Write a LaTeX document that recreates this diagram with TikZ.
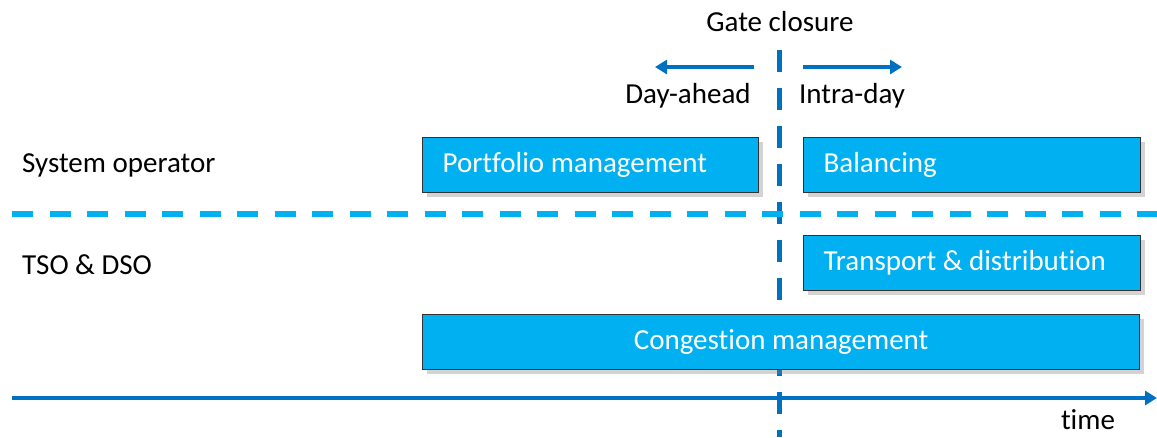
\documentclass[tikz,border=0pt]{standalone}
\usepackage{fontspec}
\setmainfont{Carlito}[Ligatures=NoCommon]
\usetikzlibrary{shadows,arrows.meta}
\definecolor{dblue}{RGB}{0,112,192}
\definecolor{lblue}{RGB}{0,176,240}
\begin{document}
\begin{tikzpicture}[x=1pt,y=-1pt,
  box/.style={draw=black!80, line width=1.2pt, fill=lblue, text=white, font=\fontsize{29}{32}\selectfont,
    inner xsep=20pt, minimum height=55pt, anchor=north west,
    drop shadow={opacity=0.35, shadow xshift=4pt, shadow yshift=-4pt}},
  lbl/.style={text=black, font=\fontsize{29}{32}\selectfont, inner sep=0pt},
  darr/.style={draw=dblue, line width=4pt, -{Triangle[length=12pt,width=14pt]}},
  vdash/.style={draw=dblue, line width=5pt, dash pattern=on 22pt off 16pt},
  hdash/.style={draw=lblue, line width=6pt, dash pattern=on 21pt off 16.5pt}]
\useasboundingbox (0,0) rectangle (1157,437);
% vertical gate closure line
\coordinate (vt) at (779,50);
\coordinate (vb) at (779,437);
\draw[vdash] (vt) -- (vb);
% horizontal dashed separator
\coordinate (hl) at (12,214);
\coordinate (hr) at (1157,214);
\draw[hdash] (hl) -- (hr);
% boxes
\node[box, minimum width=336pt, text width=296pt, align=flush left] (pm) at (422,137) {Portfolio management};
\node[box, minimum width=337pt, text width=297pt, align=flush left] (bal) at (803,137) {Balancing};
\node[box, minimum width=337pt, text width=297pt, align=flush left] (td) at (803,235) {Transport \& distribution};
\node[box, minimum width=717pt] (cm) at (422,314) {Congestion management};
% time axis
\coordinate (ta) at (12,398);
\coordinate (tb) at (1157,398);
\draw[darr] (ta) -- (tb);
% labels
\node[lbl] (gc) at (780,22) {Gate closure};
\coordinate (la) at (754,67);
\coordinate (lb) at (655,67);
\coordinate (ra) at (803,67);
\coordinate (rb) at (902,67);
\draw[darr] (la) -- (lb);
\draw[darr] (ra) -- (rb);
\node[lbl] (da) at (688,96) {Day-ahead};
\node[lbl] (id) at (852,96) {Intra-day};
\node[lbl, anchor=west] (so) at (22,165) {System operator};
\node[lbl, anchor=west] (tso) at (22,265) {TSO \& DSO};
\node[lbl] (time) at (1088,420) {time};
\end{tikzpicture}
\end{document}
